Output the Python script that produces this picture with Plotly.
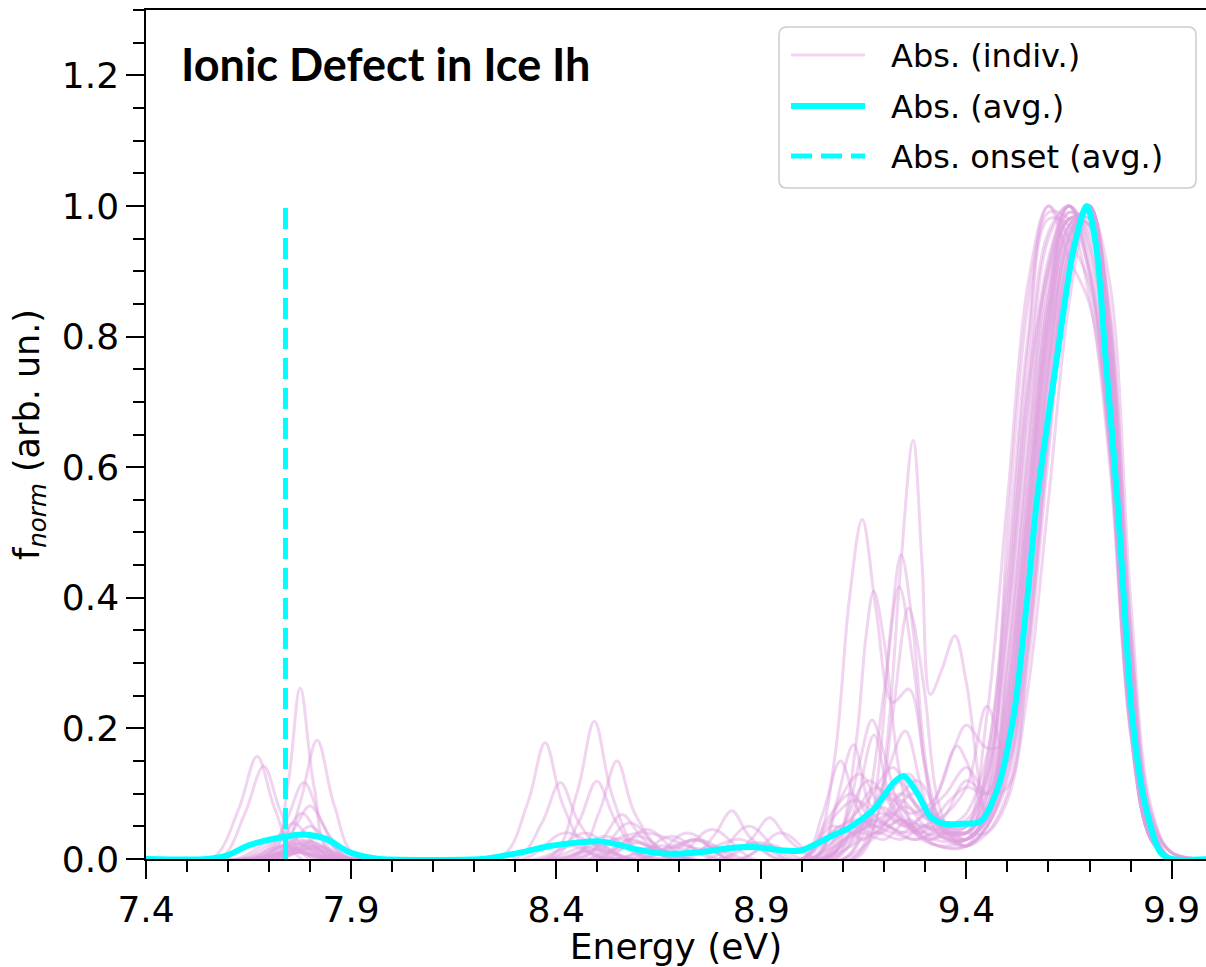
import plotly.graph_objects as go

# ---------------------------------------------------------------------------
# Normalised absorption spectra of the ionic defect in ice Ih.
# Each individual spectrum is given as (energy, f_norm) nodes in three
# low-intensity bands plus its values on a shared grid around the main peak.
# ---------------------------------------------------------------------------

energy_main = [9.40, 9.45, 9.50, 9.55, 9.60, 9.65, 9.70, 9.75, 9.80, 9.85, 9.90, 9.99]

main_band = [
    [0.27, 0.07, 0.20, 0.48, 0.80, 0.97, 0.99, 0.72, 0.26, 0.04, 0.00, 0.0],
    [0.03, 0.06, 0.16, 0.42, 0.74, 0.95, 1.00, 0.76, 0.28, 0.05, 0.00, 0.0],
    [0.04, 0.10, 0.30, 0.62, 0.90, 1.00, 0.94, 0.68, 0.22, 0.03, 0.00, 0.0],
    [0.02, 0.05, 0.14, 0.38, 0.70, 0.93, 1.00, 0.80, 0.32, 0.06, 0.00, 0.0],
    [0.04, 0.12, 0.35, 0.70, 0.95, 1.00, 0.90, 0.62, 0.20, 0.03, 0.00, 0.0],
    [0.03, 0.07, 0.22, 0.52, 0.83, 0.98, 0.98, 0.74, 0.27, 0.04, 0.00, 0.0],
    [0.02, 0.04, 0.10, 0.30, 0.62, 0.90, 1.00, 0.84, 0.36, 0.07, 0.01, 0.0],
    [0.02, 0.09, 0.26, 0.56, 0.86, 0.99, 0.96, 0.70, 0.24, 0.04, 0.00, 0.0],
    [0.03, 0.15, 0.42, 0.78, 0.98, 0.97, 0.86, 0.60, 0.19, 0.03, 0.00, 0.0],
    [0.03, 0.06, 0.18, 0.45, 0.77, 0.96, 0.99, 0.78, 0.30, 0.05, 0.00, 0.0],
    [0.02, 0.05, 0.12, 0.34, 0.66, 0.91, 1.00, 0.82, 0.34, 0.06, 0.01, 0.0],
    [0.15, 0.07, 0.20, 0.50, 0.82, 0.97, 0.99, 0.75, 0.27, 0.04, 0.00, 0.0],
    [0.11, 0.234, 0.15, 0.33, 0.66, 0.93, 1.00, 0.78, 0.30, 0.05, 0.00, 0.0],
    [0.205, 0.17, 0.18, 0.42, 0.75, 0.95, 1.00, 0.77, 0.29, 0.05, 0.00, 0.0],
    [0.04, 0.10, 0.50, 0.85, 1.00, 0.92, 0.85, 0.62, 0.20, 0.03, 0.00, 0.0],
    [0.04, 0.04, 0.09, 0.26, 0.55, 0.85, 1.00, 0.88, 0.40, 0.08, 0.01, 0.0],
    [0.04, 0.08, 0.24, 0.54, 0.84, 0.98, 0.97, 0.72, 0.25, 0.04, 0.00, 0.0],
    [0.05, 0.14, 0.40, 0.72, 0.90, 0.98, 0.97, 0.70, 0.24, 0.04, 0.00, 0.0],
    [0.03, 0.06, 0.17, 0.44, 0.76, 0.95, 1.00, 0.77, 0.29, 0.05, 0.00, 0.0],
    [0.05, 0.22, 0.55, 0.88, 1.00, 0.95, 0.88, 0.64, 0.21, 0.03, 0.00, 0.0],
    [0.11, 0.10, 0.28, 0.60, 0.88, 1.00, 0.95, 0.69, 0.23, 0.04, 0.00, 0.0],
    [0.02, 0.05, 0.13, 0.36, 0.68, 0.92, 1.00, 0.81, 0.33, 0.06, 0.01, 0.0],
    [0.12, 0.10, 0.31, 0.64, 0.91, 1.00, 0.93, 0.66, 0.22, 0.03, 0.00, 0.0],
    [0.03, 0.07, 0.21, 0.50, 0.81, 0.97, 0.99, 0.75, 0.28, 0.05, 0.00, 0.0],
    [0.14, 0.10, 0.11, 0.32, 0.64, 0.90, 1.00, 0.83, 0.35, 0.07, 0.01, 0.0],
    [0.07, 0.16, 0.45, 0.80, 0.99, 0.98, 0.90, 0.63, 0.20, 0.03, 0.00, 0.0],
    [0.04, 0.08, 0.25, 0.57, 0.86, 0.99, 0.97, 0.71, 0.25, 0.04, 0.00, 0.0],
    [0.03, 0.06, 0.19, 0.47, 0.79, 0.96, 0.99, 0.77, 0.29, 0.05, 0.00, 0.0],
    [0.05, 0.12, 0.36, 0.68, 0.92, 1.00, 0.91, 0.64, 0.21, 0.03, 0.00, 0.0],
    [0.02, 0.05, 0.15, 0.40, 0.72, 0.94, 1.00, 0.79, 0.31, 0.05, 0.00, 0.0],
    [0.03, 0.07, 0.23, 0.53, 0.84, 0.98, 0.98, 0.73, 0.26, 0.04, 0.00, 0.0],
    [0.06, 0.13, 0.38, 0.74, 0.96, 1.00, 0.89, 0.63, 0.20, 0.03, 0.00, 0.0],
]

# Band near the absorption onset (7.5 - 7.95 eV)
low_band = [
    [(7.56, 0), (7.625, 0.075), (7.671, 0.157), (7.715, 0.075), (7.78, 0)],
    [(7.58, 0), (7.64, 0.068), (7.687, 0.142), (7.73, 0.07), (7.80, 0)],
    [(7.70, 0), (7.745, 0.11), (7.776, 0.262), (7.81, 0.11), (7.86, 0)],
    [(7.72, 0), (7.775, 0.085), (7.817, 0.182), (7.86, 0.08), (7.92, 0)],
    [(7.68, 0), (7.74, 0.056), (7.785, 0.117), (7.83, 0.055), (7.89, 0)],
    [(7.70, 0), (7.755, 0.04), (7.80, 0.081), (7.845, 0.038), (7.90, 0)],
    [(7.68, 0), (7.735, 0.034), (7.78, 0.07), (7.825, 0.033), (7.88, 0)],
    [(7.66, 0), (7.715, 0.026), (7.76, 0.055), (7.805, 0.026), (7.86, 0)],
    [(7.70, 0), (7.755, 0.024), (7.80, 0.05), (7.85, 0.022), (7.90, 0)],
    [(7.63, 0), (7.695, 0.02), (7.74, 0.04), (7.785, 0.02), (7.85, 0)],
    [(7.62, 0), (7.72, 0.03), (7.82, 0)],
    [(7.73, 0), (7.83, 0.035), (7.92, 0)],
    [(7.66, 0), (7.76, 0.025), (7.86, 0)],
    [(7.68, 0), (7.79, 0.02), (7.88, 0)],
    [(7.64, 0), (7.74, 0.018), (7.84, 0)],
    [(7.70, 0), (7.80, 0.022), (7.90, 0)],
    [(7.67, 0), (7.77, 0.015), (7.87, 0)],
    [(7.69, 0), (7.79, 0.028), (7.89, 0)],
    [(7.65, 0), (7.75, 0.012), (7.85, 0)],
    [(7.71, 0), (7.81, 0.018), (7.90, 0)],
    [(7.66, 0), (7.77, 0.01), (7.87, 0)],
    [(7.68, 0), (7.78, 0.024), (7.88, 0)],
    [(7.70, 0), (7.80, 0.014), (7.90, 0)],
    [(7.64, 0), (7.73, 0.02), (7.83, 0)],
    [(7.69, 0), (7.79, 0.016), (7.89, 0)],
    [(7.67, 0), (7.77, 0.03), (7.87, 0)],
    [],
    [(7.72, 0), (7.82, 0.02), (7.91, 0)],
    [(7.66, 0), (7.76, 0.012), (7.86, 0)],
    [(7.70, 0), (7.80, 0.026), (7.90, 0)],
    [],
    [(7.68, 0), (7.78, 0.01), (7.88, 0)],
]

# Intermediate band (8.25 - 9.0 eV)
mid_band = [
    [(8.40, 0), (8.47, 0.012), (8.54, 0), (8.70, 0), (8.78, 0.02), (8.86, 0)],
    [(8.55, 0), (8.63, 0.018), (8.72, 0)],
    [(8.35, 0), (8.44, 0.02), (8.52, 0), (8.80, 0), (8.88, 0.025), (8.96, 0)],
    [(8.50, 0), (8.58, 0.03), (8.66, 0.012), (8.74, 0.03), (8.82, 0)],
    [(8.42, 0), (8.50, 0.022), (8.58, 0)],
    [(8.60, 0), (8.68, 0.02), (8.76, 0.028), (8.84, 0)],
    [(8.45, 0), (8.55, 0.03), (8.65, 0.015), (8.73, 0)],
    [(8.38, 0), (8.47, 0.018), (8.56, 0), (8.85, 0), (8.92, 0.022), (9.00, 0)],
    [(8.50, 0), (8.60, 0.035), (8.70, 0)],
    [(8.44, 0), (8.52, 0.025), (8.62, 0.04), (8.72, 0.02), (8.80, 0)],
    [(8.65, 0), (8.74, 0.03), (8.82, 0)],
    [(8.48, 0), (8.56, 0.02), (8.64, 0)],
    [(8.32, 0), (8.42, 0.04), (8.50, 0.02), (8.58, 0)],
    [(8.26, 0), (8.33, 0.085), (8.373, 0.178), (8.415, 0.085), (8.48, 0.01), (8.55, 0)],
    [(8.30, 0), (8.365, 0.055), (8.41, 0.117), (8.455, 0.056), (8.52, 0.01), (8.60, 0.025), (8.68, 0)],
    [(8.38, 0), (8.45, 0.10), (8.493, 0.211), (8.535, 0.10), (8.60, 0.01), (8.66, 0)],
    [(8.39, 0), (8.455, 0.057), (8.499, 0.119), (8.545, 0.058), (8.62, 0)],
    [(8.44, 0), (8.505, 0.072), (8.548, 0.150), (8.59, 0.072), (8.66, 0.01), (8.72, 0)],
    [(8.46, 0), (8.515, 0.033), (8.56, 0.068), (8.61, 0.032), (8.68, 0)],
    [(8.48, 0), (8.58, 0.055), (8.68, 0)],
    [(8.52, 0), (8.62, 0.045), (8.72, 0)],
    [(8.37, 0), (8.47, 0.04), (8.57, 0)],
    [(8.42, 0), (8.52, 0.035), (8.62, 0)],
    [(8.72, 0), (8.785, 0.036), (8.828, 0.074), (8.87, 0.035), (8.94, 0)],
    [(8.81, 0), (8.875, 0.03), (8.92, 0.063), (8.965, 0.03), (9.03, 0)],
    [(8.68, 0), (8.78, 0.045), (8.88, 0)],
    [(8.62, 0), (8.72, 0.04), (8.82, 0)],
    [(8.77, 0), (8.87, 0.05), (8.96, 0)],
    [(8.58, 0), (8.68, 0.035), (8.78, 0)],
    [(8.85, 0), (8.95, 0.04), (9.03, 0)],
    [(8.40, 0), (8.50, 0.015), (8.60, 0), (8.70, 0.02), (8.80, 0.01), (8.90, 0.025), (8.98, 0)],
    [(8.55, 0), (8.65, 0.02), (8.75, 0.012), (8.85, 0.03), (8.94, 0)],
]

# Band below the main peak (9.0 - 9.4 eV)
upper_band = [
    [(9.13, 0), (9.18, 0.06), (9.21, 0.20), (9.24, 0.45), (9.27, 0.641), (9.292, 0.45),
     (9.312, 0.252), (9.34, 0.29), (9.372, 0.342)],
    [(9.00, 0), (9.04, 0.03), (9.08, 0.16), (9.115, 0.40), (9.146, 0.52), (9.18, 0.38),
     (9.22, 0.24), (9.26, 0.26), (9.30, 0.14), (9.34, 0.05), (9.37, 0.03)],
    [(9.07, 0), (9.10, 0.05), (9.135, 0.20), (9.155, 0.34), (9.174, 0.41), (9.20, 0.33),
     (9.235, 0.14), (9.27, 0.05), (9.31, 0.03), (9.36, 0.04)],
    [(9.12, 0), (9.16, 0.04), (9.19, 0.16), (9.215, 0.35), (9.241, 0.466), (9.27, 0.35),
     (9.30, 0.15), (9.33, 0.05), (9.37, 0.03)],
    [(9.10, 0), (9.15, 0.06), (9.20, 0.26), (9.236, 0.417), (9.27, 0.30), (9.31, 0.10), (9.35, 0.04)],
    [(9.12, 0), (9.18, 0.06), (9.22, 0.22), (9.259, 0.384), (9.295, 0.27), (9.33, 0.09), (9.37, 0.03)],
    [(9.05, 0), (9.10, 0.05), (9.14, 0.15), (9.17, 0.213), (9.20, 0.16), (9.25, 0.06), (9.30, 0.04), (9.36, 0.03)],
    [(9.08, 0), (9.13, 0.08), (9.175, 0.19), (9.215, 0.09), (9.26, 0.05), (9.33, 0.02)],
    [(9.10, 0), (9.15, 0.04), (9.20, 0.12), (9.251, 0.196), (9.29, 0.11), (9.33, 0.04)],
    [(9.00, 0), (9.05, 0.07), (9.093, 0.15), (9.14, 0.07), (9.19, 0.04), (9.24, 0.06), (9.29, 0.03), (9.35, 0.02)],
    [(9.03, 0), (9.08, 0.08), (9.125, 0.175), (9.17, 0.08), (9.22, 0.10), (9.27, 0.05), (9.33, 0.02)],
    [(9.10, 0), (9.17, 0.03), (9.24, 0.06), (9.29, 0.04), (9.33, 0.10), (9.377, 0.173)],
    [(9.05, 0), (9.12, 0.04), (9.19, 0.08), (9.26, 0.05), (9.33, 0.06)],
    [(9.06, 0), (9.13, 0.03), (9.20, 0.10), (9.26, 0.07), (9.32, 0.09), (9.37, 0.17)],
    [(9.02, 0), (9.09, 0.04), (9.16, 0.12), (9.22, 0.09), (9.28, 0.12), (9.34, 0.06)],
    [(9.04, 0), (9.10, 0.05), (9.16, 0.09), (9.22, 0.14), (9.28, 0.08), (9.33, 0.05)],
    [(9.00, 0), (9.06, 0.06), (9.12, 0.10), (9.18, 0.05), (9.24, 0.10), (9.30, 0.07), (9.36, 0.04)],
    [(9.05, 0), (9.11, 0.03), (9.17, 0.07), (9.23, 0.12), (9.29, 0.07), (9.35, 0.05)],
    [(9.03, 0), (9.09, 0.09), (9.14, 0.13), (9.19, 0.08), (9.25, 0.05), (9.31, 0.07), (9.36, 0.04)],
    [(9.08, 0), (9.14, 0.05), (9.20, 0.09), (9.26, 0.13), (9.31, 0.07), (9.36, 0.05)],
    [(9.02, 0), (9.07, 0.04), (9.13, 0.06), (9.19, 0.05), (9.25, 0.08), (9.31, 0.06), (9.36, 0.09)],
    [(9.06, 0), (9.12, 0.06), (9.18, 0.11), (9.24, 0.06), (9.30, 0.05), (9.35, 0.03)],
    [(9.04, 0), (9.10, 0.03), (9.16, 0.05), (9.22, 0.07), (9.28, 0.04), (9.34, 0.06)],
    [(9.00, 0), (9.06, 0.03), (9.12, 0.05), (9.18, 0.04), (9.24, 0.09), (9.30, 0.05), (9.35, 0.04)],
    [(9.06, 0), (9.12, 0.04), (9.18, 0.06), (9.24, 0.04), (9.30, 0.07), (9.35, 0.10)],
    [(9.01, 0), (9.07, 0.05), (9.13, 0.04), (9.19, 0.07), (9.25, 0.05), (9.31, 0.03), (9.36, 0.05)],
    [(9.02, 0), (9.08, 0.03), (9.15, 0.06), (9.21, 0.05), (9.27, 0.03), (9.33, 0.04)],
    [(9.02, 0), (9.08, 0.02), (9.14, 0.04), (9.20, 0.03), (9.26, 0.06), (9.32, 0.03)],
    [(9.00, 0), (9.07, 0.06), (9.13, 0.09), (9.19, 0.06), (9.25, 0.04), (9.31, 0.05), (9.36, 0.04)],
    [(9.05, 0), (9.12, 0.02), (9.18, 0.04), (9.24, 0.03), (9.30, 0.05), (9.36, 0.03)],
    [(9.03, 0), (9.09, 0.05), (9.15, 0.03), (9.21, 0.06), (9.27, 0.10), (9.32, 0.07), (9.37, 0.04)],
    [(9.04, 0), (9.10, 0.02), (9.16, 0.05), (9.22, 0.04), (9.28, 0.03), (9.34, 0.05)],
]

# Averaged spectrum
avg_energy = [7.40, 7.55, 7.60, 7.646, 7.69, 7.728, 7.785, 7.841, 7.89, 7.931, 7.97,
              8.22, 8.263, 8.32, 8.385, 8.45, 8.507, 8.55, 8.597, 8.65, 8.694, 8.76,
              8.824, 8.89, 8.95, 8.995, 9.04, 9.08, 9.11, 9.174, 9.223, 9.247, 9.28,
              9.312, 9.345, 9.39, 9.434, 9.475, 9.515, 9.548, 9.572, 9.621, 9.66,
              9.693, 9.716, 9.739, 9.768, 9.784, 9.804, 9.833, 9.873, 9.90, 9.99]
avg_fnorm = [0.0, 0.0, 0.006, 0.02, 0.028, 0.033, 0.0375, 0.03, 0.012, 0.004, 0.0,
             0.0, 0.004, 0.011, 0.02, 0.025, 0.027, 0.022, 0.0145, 0.009, 0.008, 0.011,
             0.017, 0.018, 0.013, 0.013, 0.025, 0.038, 0.046, 0.076, 0.117, 0.127, 0.101,
             0.065, 0.054, 0.054, 0.057, 0.106, 0.219, 0.397, 0.55, 0.769, 0.93,
             1.0, 0.94, 0.769, 0.55, 0.397, 0.219, 0.091, 0.01, 0.0, 0.0]

onset_energy = 7.74
onset_top = 1.0

x_ticks = [7.4, 7.9, 8.4, 8.9, 9.4, 9.9]
y_ticks = [0.0, 0.2, 0.4, 0.6, 0.8, 1.0, 1.2]

x_range = [7.4, 9.984]
y_range = [0.0, 1.3]

legend_labels = ["Abs. (indiv.)", "Abs. (avg.)", "Abs. onset (avg.)"]

# ---------------------------------------------------------------------------
PINK = "rgba(221,160,221,0.45)"
CYAN = "#00FFFF"
FONT = "DejaVu Sans"

W, H = 1206, 967
L, R, T, B = 146, 0, 10, 108
PW, PH = W - L - R, H - T - B


def px_x(px):
    return (px - L) / PW


def px_y(py):
    return (H - B - py) / PH


fig = go.Figure()

for k in range(len(main_band)):
    nodes = [(7.40, 0.0)] + low_band[k] + mid_band[k] + upper_band[k]
    nodes += list(zip(energy_main, main_band[k]))
    fig.add_trace(go.Scatter(
        x=[e for e, _ in nodes], y=[f for _, f in nodes], mode="lines",
        line=dict(color=PINK, width=3, shape="spline", smoothing=1.0),
        hoverinfo="skip", showlegend=False))

fig.add_trace(go.Scatter(
    x=avg_energy, y=avg_fnorm, mode="lines",
    line=dict(color=CYAN, width=6, shape="spline", smoothing=0.8),
    showlegend=False))

fig.add_trace(go.Scatter(
    x=[onset_energy, onset_energy], y=[0.0, onset_top], mode="lines",
    line=dict(color=CYAN, width=5, dash="21px,9px"),
    showlegend=False))

axis_common = dict(
    showgrid=False, zeroline=False, showline=True, linecolor="black", linewidth=1.5,
    ticks="outside", ticklen=18, tickwidth=1.5, tickcolor="black",
    tickfont=dict(family=FONT, size=36, color="black"),
)

fig.update_xaxes(
    range=x_range, tickvals=x_ticks, ticktext=[f"{v:.1f}" for v in x_ticks],
    mirror=True,
    minor=dict(tick0=7.4, dtick=0.1, ticks="outside", ticklen=11, tickwidth=1.5,
               tickcolor="black", showgrid=False),
    title=dict(text="Energy (eV)", font=dict(family=FONT, size=36, color="black"), standoff=0),
    **axis_common)

fig.update_yaxes(
    range=y_range, tickvals=y_ticks, ticktext=[f"{v:.1f}" for v in y_ticks],
    minor=dict(tick0=0, dtick=0.05, ticks="outside", ticklen=11, tickwidth=1.5,
               tickcolor="black", showgrid=False),
    title=dict(text="f<sub><i>norm</i></sub> (arb. un.)",
               font=dict(family=FONT, size=35, color="black"), standoff=12),
    **axis_common)

# Legend box (rounded corners) drawn in paper coordinates
bx0, by0, bx1, by1, rad = 779, 27, 1196, 188, 8


def rounded_rect(x0, y0, x1, y1, r):
    X = lambda p: f"{px_x(p):.5f}"
    Y = lambda p: f"{px_y(p):.5f}"
    return (f"M{X(x0 + r)},{Y(y0)} L{X(x1 - r)},{Y(y0)} Q{X(x1)},{Y(y0)} {X(x1)},{Y(y0 + r)} "
            f"L{X(x1)},{Y(y1 - r)} Q{X(x1)},{Y(y1)} {X(x1 - r)},{Y(y1)} "
            f"L{X(x0 + r)},{Y(y1)} Q{X(x0)},{Y(y1)} {X(x0)},{Y(y1 - r)} "
            f"L{X(x0)},{Y(y0 + r)} Q{X(x0)},{Y(y0)} {X(x0 + r)},{Y(y0)} Z")


shapes = [dict(type="path", xref="paper", yref="paper", path=rounded_rect(bx0, by0, bx1, by1, rad),
               line=dict(color="rgba(204,204,204,1)", width=1.5),
               fillcolor="rgba(255,255,255,0.8)", layer="above")]

row_y = [55, 106, 156]
row_styles = [dict(color=PINK, width=3),
              dict(color=CYAN, width=6),
              dict(color=CYAN, width=5, dash="21px,9px")]
for ry, st in zip(row_y, row_styles):
    shapes.append(dict(type="line", xref="paper", yref="paper",
                       x0=px_x(791), x1=px_x(865), y0=px_y(ry), y1=px_y(ry),
                       line=st, layer="above"))

annotations = []
for ry, lab in zip(row_y, legend_labels):
    annotations.append(dict(text=lab, xref="paper", yref="paper", x=px_x(889), y=px_y(ry + 1),
                            xanchor="left", yanchor="middle", showarrow=False,
                            font=dict(family=FONT, size=32, color="black")))

annotations.append(dict(text="<b>Ionic Defect in Ice Ih</b>", xref="paper", yref="paper",
                        x=px_x(179), y=px_y(64), xanchor="left", yanchor="middle",
                        showarrow=False, font=dict(family="Lato", size=45, color="black")))

fig.update_layout(
    width=W, height=H, margin=dict(l=L, r=R, t=T, b=B, pad=0),
    plot_bgcolor="white", paper_bgcolor="white", showlegend=False,
    font=dict(family=FONT, color="black"),
    shapes=shapes, annotations=annotations,
)

fig.write_html("out.html")
